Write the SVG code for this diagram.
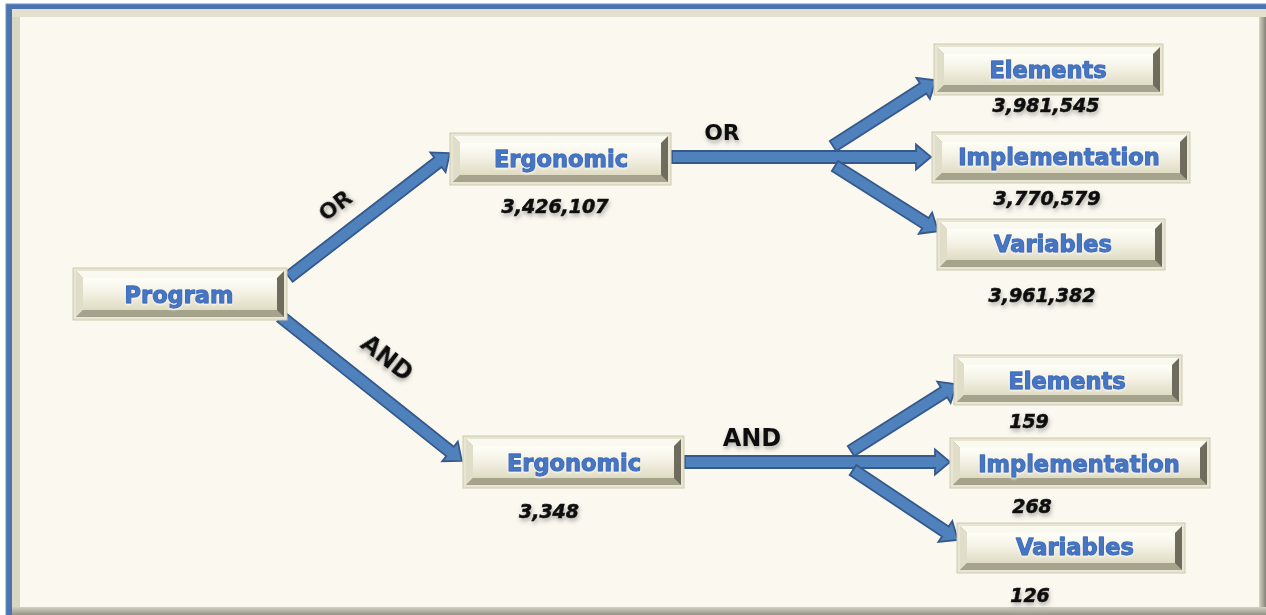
<svg xmlns="http://www.w3.org/2000/svg" width="1266" height="615" viewBox="0 0 1266 615">
<defs>
<linearGradient id="faceG" x1="0" y1="0" x2="0" y2="1">
<stop offset="0" stop-color="#FFFFF8"/>
<stop offset="0.45" stop-color="#F4F2E5"/>
<stop offset="1" stop-color="#DFDBC3"/>
</linearGradient>
<linearGradient id="rightG" x1="0" y1="0" x2="1" y2="0">
<stop offset="0" stop-color="#D8D5C6"/>
<stop offset="1" stop-color="#77756A"/>
</linearGradient>
<linearGradient id="botG" x1="0" y1="0" x2="0" y2="1">
<stop offset="0" stop-color="#D4D1C2"/>
<stop offset="1" stop-color="#8D8B80"/>
</linearGradient>
<linearGradient id="bvRG" x1="0" y1="0" x2="1" y2="0">
<stop offset="0" stop-color="#A9A692"/>
<stop offset="1" stop-color="#6E6B5C"/>
</linearGradient>
<filter id="sh" x="-20%" y="-40%" width="140%" height="200%">
<feDropShadow dx="1" dy="3" stdDeviation="2" flood-color="#555" flood-opacity="0.45"/>
</filter>
<filter id="glow" x="-10%" y="-30%" width="120%" height="160%">
<feDropShadow dx="0" dy="1" stdDeviation="1.2" flood-color="#FFFFFF" flood-opacity="0.9"/>
</filter>
</defs>
<style>
.plate{fill:#E8E5D2;stroke:#CDC9B2;stroke-width:1}
.bvR{fill:url(#bvRG)}
.bvT{fill:#FAF9F0}
.bvL{fill:#E0DDC9}
.bvB{fill:#A6A38D}
.face{fill:url(#faceG)}
.lbl{font-family:"DejaVu Sans",Verdana,sans-serif;font-weight:bold;font-size:22.5px;fill:#4677C3;stroke:#4070BD;stroke-width:1.3;stroke-linejoin:round;text-anchor:middle;filter:url(#glow)}
.num{font-family:"DejaVu Sans",Verdana,sans-serif;font-weight:bold;font-style:italic;font-size:19px;fill:#111;stroke:#111;stroke-width:0.6;text-anchor:middle;filter:url(#sh)}
.op{font-family:"DejaVu Sans",Verdana,sans-serif;font-weight:bold;fill:#111;text-anchor:middle;filter:url(#sh)}
.arr{fill:#4F81BD;stroke:#36598C;stroke-width:1.8;stroke-linejoin:miter}
</style>

<!-- frame -->
<rect x="6" y="4" width="1270" height="620" fill="#4C74B0" stroke="#6F92C6" stroke-width="1"/>
<rect x="12" y="9" width="1260" height="610" fill="#E2DFCD"/>
<rect x="1259" y="17" width="8" height="600" fill="url(#rightG)"/>
<rect x="12" y="607" width="1260" height="9" fill="url(#botG)"/>
<rect x="12" y="17" width="8" height="590" fill="#D9D6C6"/>
<rect x="20" y="17" width="1239" height="590" fill="#FBF9EF"/>

<!-- connectors -->
<g id="connectors">
<path class="arr" transform="translate(289,277) rotate(-37.6)" d="M0,-6 H188 V-12.5 L203,0 L188,12.5 V6 H0 Z"/>
<path class="arr" transform="translate(281,317) rotate(38.5)" d="M0,-6 H216 V-12.5 L231,0 L216,12.5 V6 H0 Z"/>
<path class="arr" transform="translate(672,157)" d="M0,-6 H244 V-12.5 L259,0 L244,12.5 V6 H0 Z"/>
<path class="arr" transform="translate(833,146) rotate(-32.6)" d="M0,-6 H107 V-12.5 L122,0 L107,12.5 V6 H0 Z"/>
<path class="arr" transform="translate(835,166) rotate(32.3)" d="M0,-6 H107 V-12.5 L122,0 L107,12.5 V6 H0 Z"/>
<path class="arr" transform="translate(685,462)" d="M0,-6 H250 V-12.5 L265,0 L250,12.5 V6 H0 Z"/>
<path class="arr" transform="translate(851,451) rotate(-32.3)" d="M0,-6 H110 V-12.5 L125,0 L110,12.5 V6 H0 Z"/>
<path class="arr" transform="translate(853,470) rotate(33.7)" d="M0,-6 H111 V-12.5 L126,0 L111,12.5 V6 H0 Z"/>
<text class="op" font-size="22" transform="translate(335,205) rotate(-37)" x="0" y="8">OR</text>
<text class="op" font-size="24" transform="translate(387,358) rotate(38)" x="0" y="8">AND</text>
<text class="op" font-size="22" x="722" y="140">OR</text>
<text class="op" font-size="24" x="752" y="446">AND</text>
</g>

<!-- nodes -->
<g id="program" transform="translate(73,268)">
<rect class="plate" x="0" y="0" width="214" height="52"/>
<rect class="bvR" x="3" y="3" width="208" height="46"/>
<path class="bvT" d="M3,3 H211 L204,10 H10 Z"/>
<path class="bvL" d="M3,3 L10,10 V42 L3,49 Z"/>
<path class="bvB" d="M3,49 L10,42 H204 L211,49 Z"/>
<rect class="face" x="10" y="10" width="194" height="32"/>
<text class="lbl" x="106" y="35">Program</text>
</g>

<g id="ergonomic-or" transform="translate(450,133)">
<rect class="plate" x="0" y="0" width="221" height="52"/>
<rect class="bvR" x="3" y="3" width="215" height="46"/>
<path class="bvT" d="M3,3 H218 L211,10 H10 Z"/>
<path class="bvL" d="M3,3 L10,10 V42 L3,49 Z"/>
<path class="bvB" d="M3,49 L10,42 H211 L218,49 Z"/>
<rect class="face" x="10" y="10" width="201" height="32"/>
<text class="lbl" x="111" y="34">Ergonomic</text>
</g>
<text class="num" x="555" y="213">3,426,107</text>

<g id="elements-or" transform="translate(934,44)">
<rect class="plate" x="0" y="0" width="229" height="51"/>
<rect class="bvR" x="3" y="3" width="223" height="45"/>
<path class="bvT" d="M3,3 H226 L219,10 H10 Z"/>
<path class="bvL" d="M3,3 L10,10 V41 L3,48 Z"/>
<path class="bvB" d="M3,48 L10,41 H219 L226,48 Z"/>
<rect class="face" x="10" y="10" width="209" height="31"/>
<text class="lbl" x="114" y="34">Elements</text>
</g>
<text class="num" x="1046" y="112">3,981,545</text>

<g id="implementation-or" transform="translate(932,132)">
<rect class="plate" x="0" y="0" width="258" height="51"/>
<rect class="bvR" x="3" y="3" width="252" height="45"/>
<path class="bvT" d="M3,3 H255 L248,10 H10 Z"/>
<path class="bvL" d="M3,3 L10,10 V41 L3,48 Z"/>
<path class="bvB" d="M3,48 L10,41 H248 L255,48 Z"/>
<rect class="face" x="10" y="10" width="238" height="31"/>
<text class="lbl" x="127" y="33">Implementation</text>
</g>
<text class="num" x="1047" y="205">3,770,579</text>

<g id="variables-or" transform="translate(937,219)">
<rect class="plate" x="0" y="0" width="228" height="51"/>
<rect class="bvR" x="3" y="3" width="222" height="45"/>
<path class="bvT" d="M3,3 H225 L218,10 H10 Z"/>
<path class="bvL" d="M3,3 L10,10 V41 L3,48 Z"/>
<path class="bvB" d="M3,48 L10,41 H218 L225,48 Z"/>
<rect class="face" x="10" y="10" width="208" height="31"/>
<text class="lbl" x="116" y="33">Variables</text>
</g>
<text class="num" x="1042" y="302">3,961,382</text>

<g id="ergonomic-and" transform="translate(463,436)">
<rect class="plate" x="0" y="0" width="221" height="52"/>
<rect class="bvR" x="3" y="3" width="215" height="46"/>
<path class="bvT" d="M3,3 H218 L211,10 H10 Z"/>
<path class="bvL" d="M3,3 L10,10 V42 L3,49 Z"/>
<path class="bvB" d="M3,49 L10,42 H211 L218,49 Z"/>
<rect class="face" x="10" y="10" width="201" height="32"/>
<text class="lbl" x="111" y="35">Ergonomic</text>
</g>
<text class="num" x="549" y="518">3,348</text>

<g id="elements-and" transform="translate(954,355)">
<rect class="plate" x="0" y="0" width="228" height="50"/>
<rect class="bvR" x="3" y="3" width="222" height="44"/>
<path class="bvT" d="M3,3 H225 L218,10 H10 Z"/>
<path class="bvL" d="M3,3 L10,10 V40 L3,47 Z"/>
<path class="bvB" d="M3,47 L10,40 H218 L225,47 Z"/>
<rect class="face" x="10" y="10" width="208" height="30"/>
<text class="lbl" x="113" y="34">Elements</text>
</g>
<text class="num" x="1029" y="428">159</text>

<g id="implementation-and" transform="translate(950,438)">
<rect class="plate" x="0" y="0" width="260" height="50"/>
<rect class="bvR" x="3" y="3" width="254" height="44"/>
<path class="bvT" d="M3,3 H257 L250,10 H10 Z"/>
<path class="bvL" d="M3,3 L10,10 V40 L3,47 Z"/>
<path class="bvB" d="M3,47 L10,40 H250 L257,47 Z"/>
<rect class="face" x="10" y="10" width="240" height="30"/>
<text class="lbl" x="129" y="34">Implementation</text>
</g>
<text class="num" x="1032" y="513">268</text>

<g id="variables-and" transform="translate(957,523)">
<rect class="plate" x="0" y="0" width="228" height="50"/>
<rect class="bvR" x="3" y="3" width="222" height="44"/>
<path class="bvT" d="M3,3 H225 L218,10 H10 Z"/>
<path class="bvL" d="M3,3 L10,10 V40 L3,47 Z"/>
<path class="bvB" d="M3,47 L10,40 H218 L225,47 Z"/>
<rect class="face" x="10" y="10" width="208" height="30"/>
<text class="lbl" x="118" y="32">Variables</text>
</g>
<text class="num" x="1030" y="602">126</text>
</svg>
